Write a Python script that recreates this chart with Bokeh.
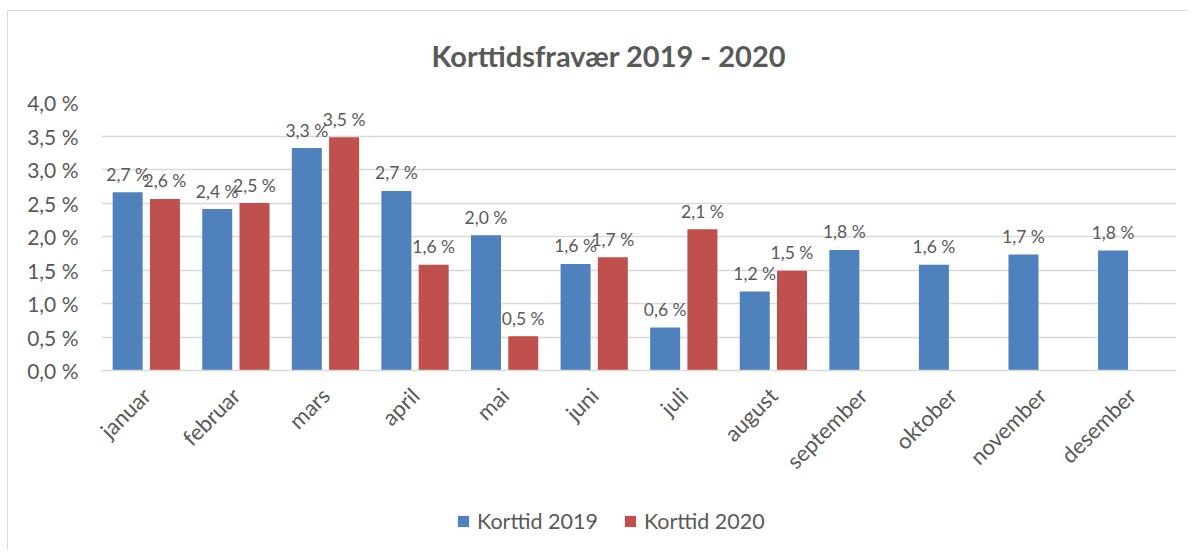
import math
from bokeh.plotting import figure
from bokeh.layouts import column
from bokeh.models import (ColumnDataSource, FactorRange, Range1d, FixedTicker,
                          Legend, LegendItem, Title)
from bokeh.transform import dodge
from bokeh.core.properties import value
from bokeh.embed import file_html
from bokeh.resources import INLINE

# ---- data ----
months = ["januar", "februar", "mars", "april", "mai", "juni", "juli",
          "august", "september", "oktober", "november", "desember"]
korttid_2019 = [2.66, 2.41, 3.32, 2.68, 2.02, 1.59, 0.64, 1.18, 1.80, 1.58, 1.73, 1.79]
months_2020 = ["januar", "februar", "mars", "april", "mai", "juni", "juli", "august"]
korttid_2020 = [2.56, 2.50, 3.48, 1.58, 0.51, 1.69, 2.11, 1.49]
y_ticks = [0.0, 0.5, 1.0, 1.5, 2.0, 2.5, 3.0, 3.5, 4.0]
y_tick_labels = ["0,0 %", "0,5 %", "1,0 %", "1,5 %", "2,0 %", "2,5 %", "3,0 %", "3,5 %", "4,0 %"]
series_names = ["Korttid 2019", "Korttid 2020"]
title_text = "Korttidsfravær 2019 - 2020"


def fmt(v):
    return f"{v:.1f}".replace(".", ",") + " %"


src19 = ColumnDataSource(dict(month=months, v=korttid_2019, lab=[fmt(v) for v in korttid_2019]))
src20 = ColumnDataSource(dict(month=months_2020, v=korttid_2020, lab=[fmt(v) for v in korttid_2020]))

BLUE = "#4f81bd"
RED = "#c0504d"
GRAY_TXT = "#595959"
GRID = "#d9d9d9"
FONT = "Lato"
W = 1180

# ---- title strip ----
p0 = figure(width=W, height=75, x_range=Range1d(0, 1), y_range=Range1d(0, 1),
            output_backend="svg", toolbar_location=None, min_border=0,
            x_axis_location=None, y_axis_location=None)
p0.grid.visible = False
p0.outline_line_color = None
p0.add_layout(Title(text=title_text, align="left", offset=330, standoff=48,
                    text_font=FONT, text_font_size="29px", text_font_style="bold",
                    text_color=GRAY_TXT), "below")

# ---- main chart ----
p = figure(x_range=FactorRange(factors=months), y_range=Range1d(0, 4.0),
           width=W, height=404, output_backend="svg", toolbar_location=None,
           min_border_left=93, min_border_top=16, min_border_right=12,
           min_border_bottom=120)

p.outline_line_color = None
p.xgrid.grid_line_color = None
p.ygrid.grid_line_color = GRID
p.ygrid.grid_line_width = 1.5

p.yaxis.ticker = FixedTicker(ticks=y_ticks)
p.yaxis.major_label_overrides = dict(zip(y_ticks, y_tick_labels))
p.yaxis.axis_line_color = None
p.yaxis.major_tick_line_color = None
p.yaxis.minor_tick_line_color = None
p.yaxis.major_tick_out = 0
p.yaxis.major_label_standoff = 23
p.yaxis.major_label_text_font = FONT
p.yaxis.major_label_text_font_size = "21px"
p.yaxis.major_label_text_color = GRAY_TXT

p.xaxis.axis_line_color = GRID
p.xaxis.axis_line_width = 1.5
p.xaxis.major_tick_line_color = None
p.xaxis.major_tick_out = 0
p.xaxis.major_label_standoff = 21
p.xaxis.major_label_orientation = math.pi / 4
p.xaxis.major_label_text_font = FONT
p.xaxis.major_label_text_font_size = "22px"
p.xaxis.major_label_text_color = GRAY_TXT

p.vbar(x=dodge("month", -0.208, range=p.x_range), top="v", width=0.335,
       source=src19, fill_color=BLUE, line_color=None)
p.vbar(x=dodge("month", 0.208, range=p.x_range), top="v", width=0.335,
       source=src20, fill_color=RED, line_color=None)

for src, off in ((src19, -0.208), (src20, 0.208)):
    p.text(x=dodge("month", off, range=p.x_range), y="v", text="lab", source=src,
           text_font=value(FONT), text_font_size="17.5px", text_color=GRAY_TXT,
           text_align="center", text_baseline="alphabetic", y_offset=-18)

# ---- legend strip (same series, bars kept out of its view) ----
p2 = figure(width=W, height=60, x_range=p.x_range, y_range=Range1d(10, 11),
            output_backend="svg", toolbar_location=None, min_border=0,
            x_axis_location=None, y_axis_location=None)
p2.grid.visible = False
p2.outline_line_color = None
k19 = p2.vbar(x=dodge("month", -0.208, range=p.x_range), top="v", width=0.335,
              source=src19, fill_color=BLUE, line_color=None)
k20 = p2.vbar(x=dodge("month", 0.208, range=p.x_range), top="v", width=0.335,
              source=src20, fill_color=RED, line_color=None)
legend = Legend(items=[LegendItem(label=series_names[0], renderers=[k19]),
                       LegendItem(label=series_names[1], renderers=[k20])],
                orientation="horizontal", location=(355, 16), padding=0, margin=0,
                spacing=25, label_standoff=7, glyph_width=14, glyph_height=14,
                border_line_color=None, background_fill_alpha=0,
                label_text_font=FONT, label_text_font_size="21.5px",
                label_text_color=GRAY_TXT)
p2.add_layout(legend)

layout = column(p0, p, p2, spacing=0,
                styles={"border-left": "1px solid #d9d9d9", "border-top": "1px solid #d9d9d9",
                        "margin-left": "7px", "margin-top": "10px"})

open("out.html", "w").write(file_html(layout, INLINE))
